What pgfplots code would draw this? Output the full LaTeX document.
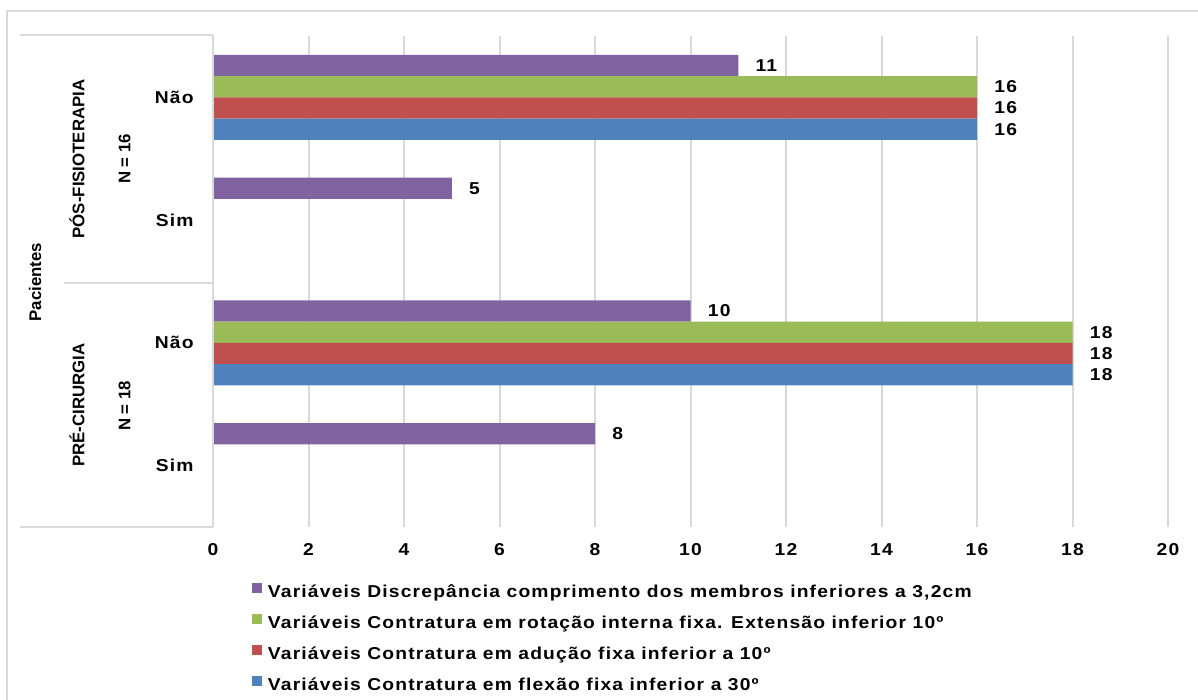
\documentclass[border=0pt]{standalone}
\usepackage{fontspec}
\setmainfont{Liberation Sans Bold}[FakeStretch=1.12, LetterSpace=6.8]
\newfontfamily\rotfont{Liberation Sans Bold}
\usepackage{pgfplots}
\pgfplotsset{compat=1.18}
\definecolor{serPurple}{HTML}{8064A2}
\definecolor{serGreen}{HTML}{9BBB59}
\definecolor{serRed}{HTML}{C0504D}
\definecolor{serBlue}{HTML}{4F81BD}
\definecolor{gridgray}{HTML}{D9D9D9}
\begin{document}
\begin{tikzpicture}[font=\fontsize{8.6bp}{10bp}\selectfont]
\path[use as bounding box] (0,0) rectangle (599bp,350bp);
\begin{axis}[
  at={(106.5bp,86.5bp)}, anchor=south west,
  width=477.5bp, height=245.5bp, scale only axis,
  xmin=0, xmax=20, ymin=-0.5, ymax=3.5,
  xtick={0,2,...,20}, ytick={0,1,2,3},
  yticklabels={Sim,Não,Sim,Não},
  xmajorgrids, grid style={draw=gridgray, line width=1bp},
  axis line style={draw=none},
  major tick length=0pt,
  /pgf/number format/assume math mode=true,
  xticklabel style={inner sep=0pt, yshift=-8bp},
  yticklabel style={inner sep=0pt, xshift=-9.5bp},
  xbar, bar width=0.1735,
  clip=false,
  nodes near coords,
  nodes near coords style={anchor=west, inner sep=0pt, xshift=8.5bp, text=black},
  legend style={at={(0.0408,-0.114)}, anchor=north west, draw=none, fill=none,
    inner sep=0pt, outer sep=0pt,
    nodes={inner sep=0pt, text height=6bp, text depth=2bp},
    row sep=6bp, column sep=3bp},
  legend cell align=left,
  legend image code/.code={\fill[#1] (0bp,0.5bp) rectangle (5bp,5.5bp);},
]
\addplot[fill=serPurple, draw=none, bar shift=0.26]
  coordinates {(11,3) (5,2) (10,1) (8,0)};
\addplot[fill=serGreen, draw=none, bar shift=0.0868]
  coordinates {(16,3) (18,1)};
\addplot[fill=serRed, draw=none, bar shift=-0.0868]
  coordinates {(16,3) (18,1)};
\addplot[fill=serBlue, draw=none, bar shift=-0.26]
  coordinates {(16,3) (18,1)};
\legend{{Variáveis Discrepância comprimento dos membros inferiores a 3,2cm},
  {Variáveis Contratura em rotação interna fixa. Extensão inferior 10º},
  {Variáveis Contratura em adução fixa inferior a 10º},
  {Variáveis Contratura em flexão fixa inferior a 30º}}
\end{axis}
% frame and multi-level category axis
\begin{scope}[x=0.5bp, y=-0.5bp, yshift=350bp]
  \draw[gridgray, line width=1bp] (7,700) -- (7,11) -- (1198,11);
  \draw[gridgray, line width=1bp] (20,35) -- (213,35);
  \draw[gridgray, line width=1bp] (64,283) -- (213,283);
  \draw[gridgray, line width=1bp] (20,527) -- (213,527);
  \draw[gridgray, line width=1bp] (213,35) -- (213,527);
  \begin{scope}[font=\rotfont\fontsize{8.4bp}{10bp}\selectfont]
    \node[rotate=90] at (77,159) {PÓS-FISIOTERAPIA};
    \node[rotate=90] at (124.5,159) {N = 16};
    \node[rotate=90] at (77,405) {PRÉ-CIRURGIA};
    \node[rotate=90] at (124.5,406) {N = 18};
    \node[rotate=90] at (35,282) {Pacientes};
  \end{scope}
\end{scope}
\end{tikzpicture}
\end{document}
